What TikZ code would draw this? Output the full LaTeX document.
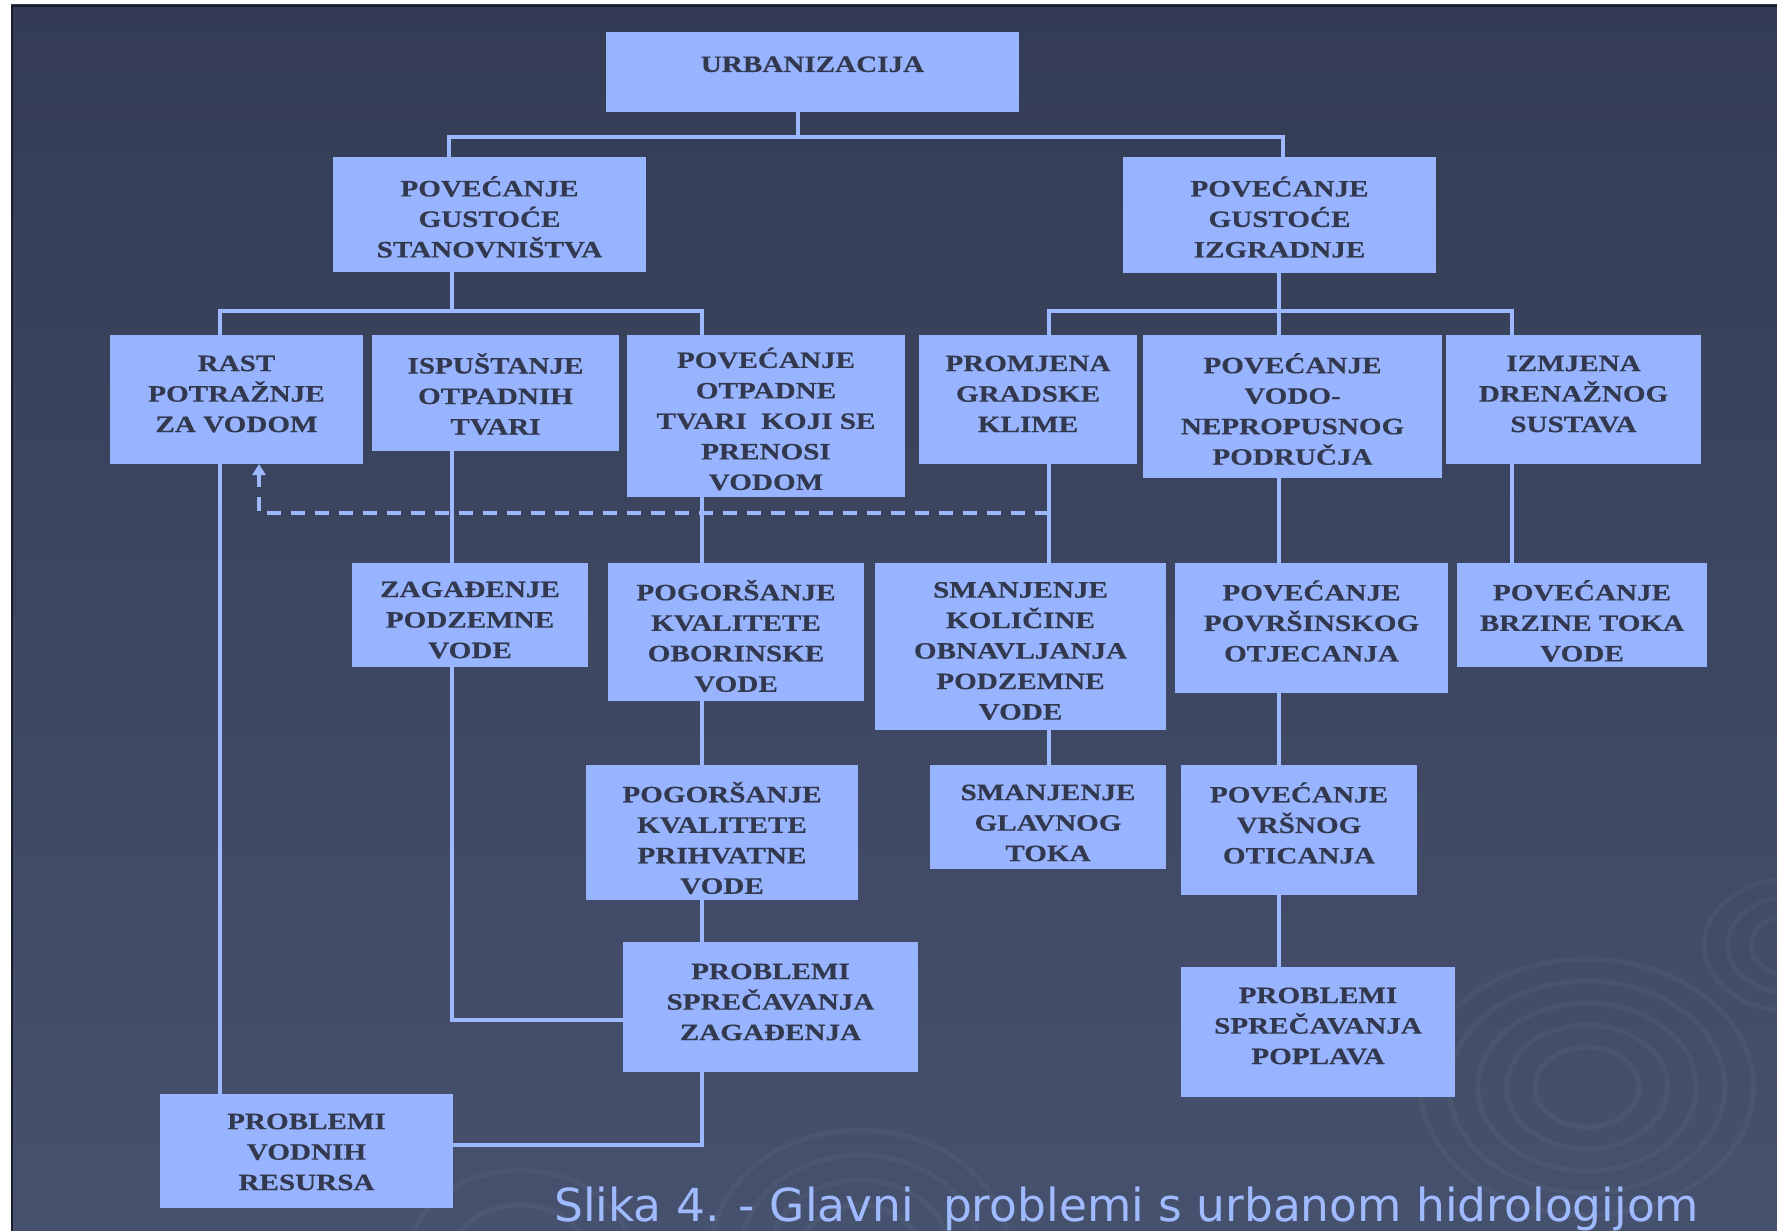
\documentclass[tikz,border=0pt]{standalone}
\usepackage{fontspec}
\newfontfamily\boxfont[FakeStretch=1.24,FakeBold=0.4]{Liberation Serif}
\newfontfamily\capfont{DejaVu Sans}
\usetikzlibrary{arrows.meta}
\definecolor{bgtop}{RGB}{51,60,84}
\definecolor{bgbot}{RGB}{70,81,110}
\definecolor{boxfill}{RGB}{153,180,255}
\definecolor{boxtext}{RGB}{50,56,78}
\definecolor{lineblue}{RGB}{158,184,255}
\definecolor{captext}{RGB}{160,186,255}
\definecolor{frameline}{RGB}{25,29,42}
% box: name, x1, y1, x2, y2, text centre y, text
\newcommand{\flowbox}[7]{%
  \node[boxsty, minimum width={#4-#2}, minimum height={#5-#3}] (#1) at ({(#2+#4)/2},{(#3+#5)/2}) {};
  \node[txtsty] (#1-t) at ({(#2+#4)/2},{#6+2}) {#7};}
\begin{document}
\begin{tikzpicture}[x=1pt,y=-1pt,
  boxsty/.style={rectangle, fill=boxfill, draw=none, inner sep=0pt, outer sep=0pt},
  txtsty/.style={inner sep=0pt, align=center, text=boxtext,
    font=\boxfont\bfseries\fontsize{23.5}{30.5}\selectfont,
    execute at begin node={\vphantom{Ć}}},
  tighttxt/.style={font=\boxfont\bfseries\fontsize{23.5}{29.5}\selectfont},
  conn/.style={draw=lineblue, line width=4.5pt},
  dconn/.style={conn, dash pattern=on 14pt off 10pt},
  ripple/.style={draw=white, draw opacity=0.035, line width=5pt}]
\useasboundingbox (0,0) rectangle (1777,1231);
% page background with frame
\fill[white] (0,0) rectangle (1777,1231);
\shade[top color=bgtop, bottom color=bgbot] (11,5) rectangle (1777,1231);
\draw[frameline, line width=2pt] (12,1231) -- (12,6) -- (1777,6);
% faint ripples
\foreach \r in {40,62,84,106,128}
  \draw[ripple] (1587,1087) ellipse [x radius={1.3*\r}, y radius=\r];
\foreach \r in {30,48,66}
  \draw[ripple] (1790,945) ellipse [x radius={1.3*\r}, y radius=\r];
\foreach \r in {50,75,100,125}
  \draw[ripple] (860,1255) ellipse [x radius={1.2*\r}, y radius=\r];
\foreach \r in {60,95}
  \draw[ripple] (520,1265) ellipse [x radius={1.2*\r}, y radius=\r];

% junction points and connector columns
\coordinate (tbarL) at (449,137);
\coordinate (tbarM) at (798,137);
\coordinate (tbarR) at (1283,137);
\coordinate (lbarL) at (220,311);
\coordinate (lbarM) at (452,311);
\coordinate (lbarR) at (702,311);
\coordinate (rbarL) at (1049,311);
\coordinate (rbarM) at (1279,311);
\coordinate (rbarR) at (1512,311);
\coordinate (colA) at (220,0);
\coordinate (colB) at (452,0);
\coordinate (colC) at (702,0);
\coordinate (colD) at (1049,0);
\coordinate (colE) at (1279,0);
\coordinate (colF) at (1512,0);
\coordinate (zagj) at (452,1020);
\coordinate (pszj) at (702,1145);
\coordinate (dashR) at (1049,513);
\coordinate (dashL) at (259,513);

% boxes
\flowbox{urb}{606}{32}{1019}{112}{60}{URBANIZACIJA}
\flowbox{pgs}{333}{157}{646}{272}{215}{POVEĆANJE\\GUSTOĆE\\STANOVNIŠTVA}
\flowbox{pgi}{1123}{157}{1436}{273}{215}{POVEĆANJE\\GUSTOĆE\\IZGRADNJE}
\flowbox{rast}{110}{335}{363}{464}{392}{RAST\\POTRAŽNJE\\ZA VODOM}
\flowbox{ispu}{372}{335}{619}{451}{392}{ISPUŠTANJE\\OTPADNIH\\TVARI}
\flowbox{otp}{627}{335}{905}{497}{417}{\tikzset{tighttxt}POVEĆANJE\\OTPADNE\\TVARI\ \ KOJI SE\\PRENOSI\\VODOM}
\flowbox{prom}{919}{335}{1137}{464}{392}{PROMJENA\\GRADSKE\\KLIME}
\flowbox{vodo}{1143}{335}{1442}{478}{407}{POVEĆANJE\\VODO-\\NEPROPUSNOG\\PODRUČJA}
\flowbox{izm}{1446}{335}{1701}{464}{392}{IZMJENA\\DRENAŽNOG\\SUSTAVA}
\flowbox{zag}{352}{563}{588}{667}{618}{ZAGAĐENJE\\PODZEMNE\\VODE}
\flowbox{obor}{608}{563}{864}{701}{634}{POGORŠANJE\\KVALITETE\\OBORINSKE\\VODE}
\flowbox{smk}{875}{563}{1166}{730}{649}{SMANJENJE\\KOLIČINE\\OBNAVLJANJA\\PODZEMNE\\VODE}
\flowbox{povr}{1175}{563}{1448}{693}{619}{POVEĆANJE\\POVRŠINSKOG\\OTJECANJA}
\flowbox{brz}{1457}{563}{1707}{667}{619}{POVEĆANJE\\BRZINE TOKA\\VODE}
\flowbox{prih}{586}{765}{858}{900}{836}{POGORŠANJE\\KVALITETE\\PRIHVATNE\\VODE}
\flowbox{smg}{930}{765}{1166}{869}{821}{SMANJENJE\\GLAVNOG\\TOKA}
\flowbox{vrs}{1181}{765}{1417}{895}{821}{POVEĆANJE\\VRŠNOG\\OTICANJA}
\flowbox{psz}{623}{942}{918}{1072}{1000}{PROBLEMI\\SPREČAVANJA\\ZAGAĐENJA}
\flowbox{psp}{1181}{967}{1455}{1097}{1024}{PROBLEMI\\SPREČAVANJA\\POPLAVA}
\flowbox{pvr}{160}{1094}{453}{1208}{1150}{PROBLEMI\\VODNIH\\RESURSA}

% upper tree
\draw[conn] (urb.south -| tbarM) -- (tbarM);
\draw[conn] (pgs.north -| tbarL) -- (tbarL) -- (tbarR) -- (pgi.north -| tbarR);
\draw[conn] (pgs.south -| lbarM) -- (lbarM);
\draw[conn] (rast.north -| lbarL) -- (lbarL) -- (lbarR) -- (otp.north -| lbarR);
\draw[conn] (pgi.south -| rbarM) -- (vodo.north -| rbarM);
\draw[conn] (prom.north -| rbarL) -- (rbarL) -- (rbarR) -- (izm.north -| rbarR);
% lower chains
\draw[conn] (ispu.south -| colB) -- (zag.north -| colB);
\draw[conn] (otp.south -| colC) -- (obor.north -| colC);
\draw[conn] (obor.south -| colC) -- (prih.north -| colC);
\draw[conn] (prih.south -| colC) -- (psz.north -| colC);
\draw[conn] (prom.south -| colD) -- (smk.north -| colD);
\draw[conn] (smk.south -| colD) -- (smg.north -| colD);
\draw[conn] (vodo.south -| colE) -- (povr.north -| colE);
\draw[conn] (povr.south -| colE) -- (vrs.north -| colE);
\draw[conn] (vrs.south -| colE) -- (psp.north -| colE);
\draw[conn] (izm.south -| colF) -- (brz.north -| colF);
\draw[conn] (zag.south -| colB) -- (zagj) -- (psz.west |- zagj);
\draw[conn] (psz.south -| colC) -- (pszj) -- (pvr.east |- pszj);
\draw[conn] (rast.south -| colA) -- (pvr.north -| colA);
% feedback from the climate branch
\draw[dconn, -{Triangle[width=13pt,length=11pt]}] (dashR) -- (dashL) -- (rast.south -| dashL);

% caption
\node[anchor=base west, inner sep=0pt, text=captext, font=\capfont\fontsize{45.5}{50}\selectfont]
  (cap) at (554,1221) {Slika 4. - Glavni\ \ problemi s urbanom hidrologijom};
\end{tikzpicture}
\end{document}
